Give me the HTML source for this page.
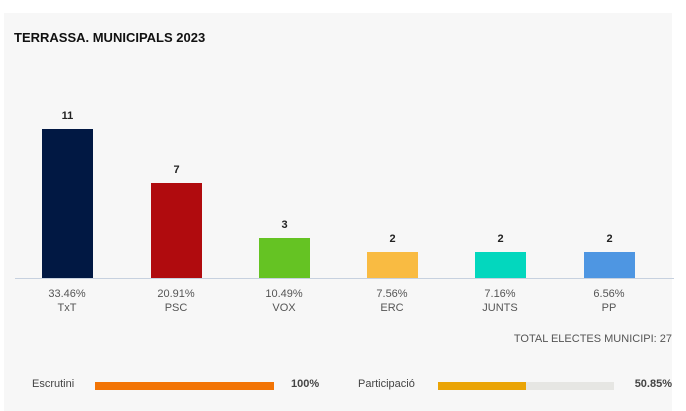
<!DOCTYPE html>
<html><head><style>
body{margin:0;width:686px;height:411px;background:#fff;font-family:"Liberation Sans",sans-serif;position:relative;overflow:hidden}
.p{position:absolute;left:4px;top:13px;width:668px;height:398px;background:#f7f7f7}
.a{position:absolute;font-size:11px;color:#555;text-align:center;width:80px;line-height:14px}
.bar{position:absolute;width:51px}
.v{position:absolute;width:51px;text-align:center;font-size:11px;font-weight:bold;color:#222}
</style></head><body>
<div class="p"></div>
<div style="position:absolute;left:14px;top:30px;font-size:13px;font-weight:bold;color:#111">TERRASSA. MUNICIPALS 2023</div>

<div class="v" style="left:42px;top:110px">11</div><div class="bar" style="left:42px;top:129px;height:149px;background:#011843"></div>
<div class="v" style="left:151px;top:164px">7</div><div class="bar" style="left:151px;top:183px;height:95px;background:#b00b0e"></div>
<div class="v" style="left:259px;top:219px">3</div><div class="bar" style="left:259px;top:238px;height:40px;background:#65c323"></div>
<div class="v" style="left:367px;top:233px">2</div><div class="bar" style="left:367px;top:252px;height:26px;background:#f9bb42"></div>
<div class="v" style="left:475px;top:233px">2</div><div class="bar" style="left:475px;top:252px;height:26px;background:#03d7be"></div>
<div class="v" style="left:584px;top:233px">2</div><div class="bar" style="left:584px;top:252px;height:26px;background:#4e96e2"></div>
<div style="position:absolute;left:15px;top:278px;width:659px;height:1px;background:#c7d1df"></div>

<div class="a" style="left:27px;top:287px">33.46%<br>TxT</div>
<div class="a" style="left:136px;top:287px">20.91%<br>PSC</div>
<div class="a" style="left:244px;top:287px">10.49%<br>VOX</div>
<div class="a" style="left:352px;top:287px">7.56%<br>ERC</div>
<div class="a" style="left:460px;top:287px">7.16%<br>JUNTS</div>
<div class="a" style="left:569px;top:287px">6.56%<br>PP</div>

<div style="position:absolute;right:14px;top:333px;font-size:11px;color:#555">TOTAL ELECTES MUNICIPI: 27</div>

<div style="position:absolute;left:32px;top:378px;font-size:11px;color:#444">Escrutini</div>
<div style="position:absolute;left:95px;top:382px;width:179px;height:8px;background:#f27405"></div>
<div style="position:absolute;left:291px;top:378px;font-size:11px;font-weight:bold;color:#444">100%</div>
<div style="position:absolute;left:358px;top:378px;font-size:11px;color:#444">Participació</div>
<div style="position:absolute;left:438px;top:382px;width:176px;height:8px;background:#e6e6e3"></div>
<div style="position:absolute;left:438px;top:382px;width:88px;height:8px;background:#eaa406"></div>
<div style="position:absolute;right:14px;top:378px;font-size:11px;font-weight:bold;color:#444">50.85%</div>
</body></html>
